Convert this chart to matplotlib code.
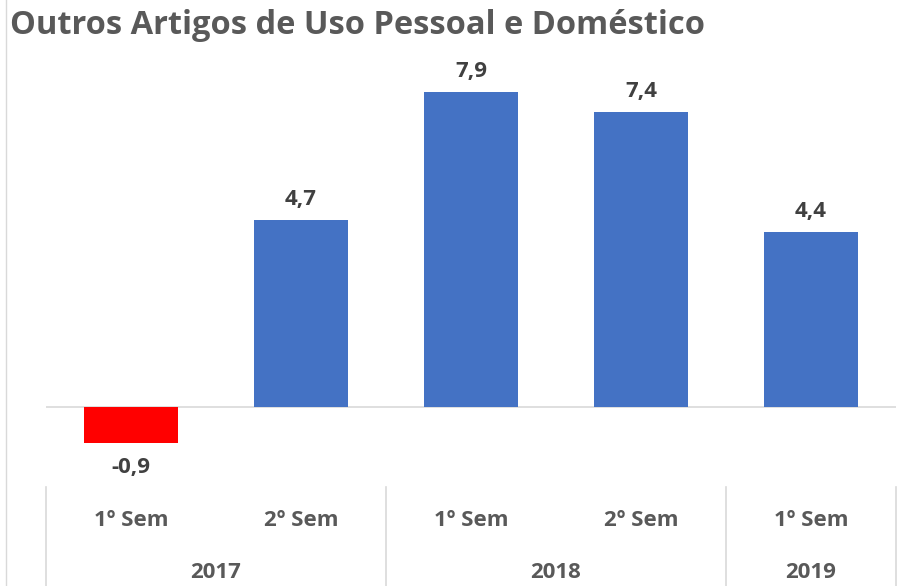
import matplotlib
matplotlib.use("Agg")
import matplotlib.pyplot as plt
from matplotlib.transforms import blended_transform_factory
from matplotlib.lines import Line2D

title = "Outros Artigos de Uso Pessoal e Doméstico"
semesters = ["1º Sem", "2º Sem", "1º Sem", "2º Sem", "1º Sem"]
years = ["2017", "2018", "2019"]
year_spans = [(0, 1), (2, 3), (4, 4)]
values = [-0.9, 4.7, 7.9, 7.4, 4.4]
labels = ["-0,9", "4,7", "7,9", "7,4", "4,4"]

BLUE = "#4472C4"
RED = "#FF0000"
TXT = "#595959"
VAL = "#404040"
GRID = "#D9D9D9"
FONT = "Open Sans"

W, H = 901, 586
fig = plt.figure(figsize=(W / 100, H / 100), dpi=100)
fig.patch.set_facecolor("white")

ax_left, ax_right = 46, 896
ax_top, ax_bottom = 60, 487
ax = fig.add_axes([ax_left / W, (H - ax_bottom) / H, (ax_right - ax_left) / W, (ax_bottom - ax_top) / H])
ax.set_xlim(-0.5, len(values) - 0.5)
ax.set_ylim(-2.005, 8.70)
ax.axis("off")

x = list(range(len(values)))
colors = [RED if v < 0 else BLUE for v in values]
ax.bar(x, values, width=0.55, color=colors, zorder=2)
ax.axhline(0, color=GRID, lw=1.2, zorder=1)

for xi, v, lab in zip(x, values, labels):
    if v >= 0:
        ax.annotate(lab, (xi, v), xytext=(0, 7), textcoords="offset points",
                    ha="center", va="bottom", fontsize=16, fontweight="bold",
                    color=VAL, family=FONT)
    else:
        ax.annotate(lab, (xi, v), xytext=(0, -10), textcoords="offset points",
                    ha="center", va="top", fontsize=16, fontweight="bold",
                    color=VAL, family=FONT)

tr = blended_transform_factory(ax.transData, fig.transFigure)
line_top = (H - 487) / H
for xb in [-0.5, 1.5, 3.5, 4.5]:
    fig.add_artist(Line2D([xb, xb], [line_top, 0], transform=tr, color=GRID, lw=1.2))

for xi, s in zip(x, semesters):
    fig.text(xi, (H - 521) / H, s, transform=tr, ha="center", va="center",
             fontsize=16, fontweight="bold", color=TXT, family=FONT)
for (a, b), yname in zip(year_spans, years):
    fig.text((a + b) / 2, (H - 573) / H, yname, transform=tr, ha="center", va="center",
             fontsize=16, fontweight="bold", color=TXT, family=FONT)

# chart frame left edge
fig.add_artist(Line2D([6 / W, 6 / W], [0, 1], transform=fig.transFigure, color=GRID, lw=1))

fig.text(10 / W, (H - 25) / H, title, ha="left", va="center", fontsize=23.5,
         fontweight="bold", color=TXT, family=FONT)

fig.savefig("out.png", dpi=100, facecolor="white")
